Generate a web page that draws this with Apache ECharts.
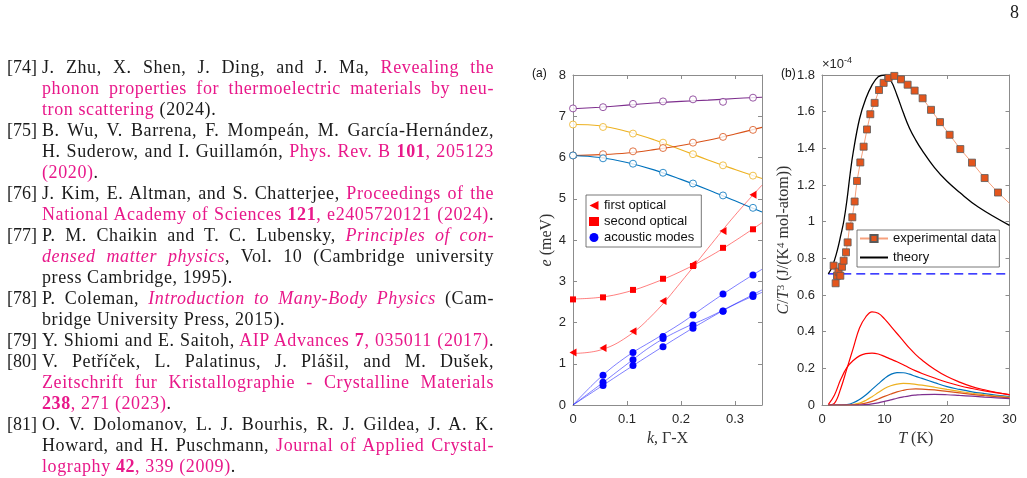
<!DOCTYPE html>
<html><head><meta charset="utf-8">
<script src="https://cdn.jsdelivr.net/npm/echarts@6/dist/echarts.min.js"></script>
<style>
html,body{margin:0;padding:0;background:#fff;}
#wrap{position:relative;width:1027px;height:478px;overflow:hidden;}
#chart{position:absolute;left:0;top:0;width:1027px;height:478px;}
.ln{position:absolute;left:42px;width:452px;height:21px;line-height:21px;font-family:'Liberation Serif',serif;font-size:18px;letter-spacing:0.6px;color:#1a1a1a;text-align:justify;text-align-last:justify;white-space:nowrap;}
.ls{text-align-last:left;}
.num{position:absolute;left:7px;height:21px;line-height:21px;font-family:'Liberation Serif',serif;font-size:18px;color:#1a1a1a;}
.p{color:#e8188a;}
.pg{position:absolute;left:1010px;top:2px;font-family:'Liberation Serif',serif;font-size:18px;color:#1a1a1a;}
</style></head>
<body><div id="wrap">
<div id="chart"></div>
<div id="refs"></div>
<div class="pg">8</div>
</div>
<script>
// ---------- Panel (a) data: phonon dispersion ----------
const kPts = [0, 0.0556, 0.1111, 0.1667, 0.2222, 0.2778, 0.3333];
const purplePts = [7.19, 7.22, 7.30, 7.36, 7.41, 7.35, 7.45];
const yellowPts = [6.80, 6.74, 6.58, 6.36, 6.08, 5.81, 5.56];
const orangePts = [6.05, 6.08, 6.15, 6.23, 6.36, 6.50, 6.67];
const bluePts   = [6.05, 5.98, 5.85, 5.63, 5.37, 5.08, 4.78];
const firstOptPts  = [1.27, 1.38, 1.79, 2.52, 3.41, 4.22, 5.10];
const secondOptPts = [2.56, 2.61, 2.79, 3.06, 3.37, 3.81, 4.26];
const kAc = [0.0556, 0.1111, 0.1667, 0.2222, 0.2778, 0.3333];
const acTopPts = [0.72, 1.27, 1.66, 2.18, 2.69, 3.15];
const acMidPts = [0.55, 1.10, 1.61, 1.94, 2.28, 2.67];
const acBotPts = [0.47, 0.96, 1.41, 1.86, 2.27, 2.63];
// fitted curves
const kFit = [0, 0.05, 0.10, 0.15, 0.20, 0.25, 0.30, 0.35];
const purpleFit = [7.18, 7.22, 7.27, 7.32, 7.36, 7.39, 7.43, 7.46];
const yellowFit = [6.80, 6.77, 6.63, 6.43, 6.19, 5.94, 5.71, 5.49];
const orangeFit = [6.05, 6.07, 6.11, 6.19, 6.29, 6.42, 6.57, 6.73];
const blueFit   = [6.05, 6.00, 5.88, 5.70, 5.47, 5.22, 4.95, 4.68];
const firstOptFit  = [1.25, 1.33, 1.65, 2.22, 2.98, 3.80, 4.60, 5.33];
const secondOptFit = [2.57, 2.61, 2.74, 2.96, 3.24, 3.58, 3.98, 4.42];
const acTopFit = [0, 0.66, 1.18, 1.58, 1.98, 2.44, 2.88, 3.29];
const acMidFit = [0, 0.49, 0.99, 1.47, 1.83, 2.12, 2.45, 2.79];
const acBotFit = [0, 0.43, 0.86, 1.28, 1.69, 2.08, 2.44, 2.73];

// ---------- Panel (b) data: C/T^3 (x1e-4) ----------
const expT = [1.86, 2.18, 2.40, 2.66, 2.93, 3.20, 3.46, 3.84, 4.10, 4.42, 4.85, 5.22, 5.60, 6.13, 6.66, 7.20, 7.73, 8.42, 9.12, 9.86, 10.66, 11.57, 12.64, 13.70, 14.82, 16.10, 17.44, 18.88, 20.42, 22.13, 24.00, 26.02, 28.16];
const expC = [0.760, 0.664, 0.705, 0.727, 0.705, 0.754, 0.787, 0.833, 0.887, 0.974, 1.024, 1.110, 1.222, 1.323, 1.409, 1.503, 1.586, 1.648, 1.718, 1.757, 1.784, 1.795, 1.776, 1.747, 1.715, 1.673, 1.610, 1.543, 1.474, 1.396, 1.322, 1.238, 1.159];
const expTailT = [28.16, 30];
const expTailC = [1.159, 1.100];
const theoryT = [1, 1.5, 2, 2.5, 3, 3.5, 4, 4.5, 5, 6, 7, 8, 9, 10, 11, 12, 13, 14, 15, 16, 18, 20, 22, 25, 30];
const theoryC = [0.715, 0.745, 0.790, 0.850, 0.925, 1.005, 1.120, 1.260, 1.380, 1.560, 1.670, 1.745, 1.790, 1.800, 1.770, 1.690, 1.595, 1.510, 1.445, 1.390, 1.295, 1.220, 1.160, 1.080, 0.980];
const dashT = [1, 30];
const dashC = [0.715, 0.715];
const Tc = [1, 2, 3, 4, 5, 6, 7, 8, 9, 10, 11, 12, 13, 14, 15, 16, 18, 20, 22, 24, 26, 28, 30];
const redTall  = [0, 0.010, 0.090, 0.200, 0.310, 0.420, 0.480, 0.508, 0.500, 0.470, 0.430, 0.390, 0.350, 0.310, 0.275, 0.245, 0.195, 0.155, 0.125, 0.100, 0.083, 0.068, 0.055];
const redBroad = [0.002, 0.055, 0.140, 0.205, 0.243, 0.268, 0.280, 0.283, 0.278, 0.265, 0.250, 0.236, 0.220, 0.202, 0.186, 0.172, 0.147, 0.124, 0.105, 0.090, 0.077, 0.066, 0.057];
const blueC    = [0, 0, 0, 0.002, 0.012, 0.030, 0.055, 0.085, 0.115, 0.145, 0.167, 0.177, 0.176, 0.168, 0.156, 0.145, 0.122, 0.100, 0.085, 0.072, 0.062, 0.053, 0.046];
const yellowC  = [0, 0, 0, 0, 0.003, 0.010, 0.025, 0.045, 0.068, 0.090, 0.105, 0.114, 0.118, 0.117, 0.113, 0.108, 0.097, 0.085, 0.074, 0.064, 0.056, 0.048, 0.042];
const orangeC  = [0, 0, 0, 0, 0, 0.004, 0.010, 0.020, 0.033, 0.047, 0.060, 0.072, 0.080, 0.086, 0.088, 0.087, 0.082, 0.074, 0.066, 0.058, 0.051, 0.045, 0.039];
const purpleC  = [0, 0, 0, 0, 0, 0, 0.002, 0.006, 0.012, 0.020, 0.028, 0.037, 0.044, 0.050, 0.054, 0.057, 0.058, 0.056, 0.052, 0.048, 0.043, 0.039, 0.035];

// tick label lists
const aXTicks = [0, 0.1, 0.2, 0.3];
const aYTicks = [0, 1, 2, 3, 4, 5, 6, 7, 8];
const bXTicks = [0, 10, 20, 30];
const bYTicks = [0, 0.2, 0.4, 0.6, 0.8, 1, 1.2, 1.4, 1.6, 1.8];

// ---------- reference list text ----------
const refs = [
 ['[74]', 'J. Zhu, X. Shen, J. Ding, and J. Ma, <span class="p">Revealing the</span>', 0],
 ['', '<span class="p">phonon properties for thermoelectric materials by neu-</span>', 0],
 ['', '<span class="p">tron scattering</span> (2024).', 1],
 ['[75]', 'B. Wu, V. Barrena, F. Mompeán, M. García-Hernández,', 0],
 ['', 'H. Suderow, and I. Guillamón, <span class="p">Phys. Rev. B <b>101</b>, 205123</span>', 0],
 ['', '<span class="p">(2020)</span>.', 1],
 ['[76]', 'J. Kim, E. Altman, and S. Chatterjee, <span class="p">Proceedings of the</span>', 0],
 ['', '<span class="p">National Academy of Sciences <b>121</b>, e2405720121 (2024)</span>.', 0],
 ['[77]', 'P. M. Chaikin and T. C. Lubensky, <span class="p"><i>Principles of con-</i></span>', 0],
 ['', '<span class="p"><i>densed matter physics</i></span>, Vol. 10 (Cambridge university', 0],
 ['', 'press Cambridge, 1995).', 1],
 ['[78]', 'P. Coleman, <span class="p"><i>Introduction to Many-Body Physics</i></span> (Cam-', 0],
 ['', 'bridge University Press, 2015).', 1],
 ['[79]', 'Y. Shiomi and E. Saitoh, <span class="p">AIP Advances <b>7</b>, 035011 (2017)</span>.', 0],
 ['[80]', 'V. Petříček, L. Palatinus, J. Plášil, and M. Dušek,', 0],
 ['', '<span class="p">Zeitschrift fur Kristallographie - Crystalline Materials</span>', 0],
 ['', '<span class="p"><b>238</b>, 271 (2023)</span>.', 1],
 ['[81]', 'O. V. Dolomanov, L. J. Bourhis, R. J. Gildea, J. A. K.', 0],
 ['', 'Howard, and H. Puschmann, <span class="p">Journal of Applied Crystal-</span>', 0],
 ['', '<span class="p">lography <b>42</b>, 339 (2009)</span>.', 1]
];
(function(){
  const box = document.getElementById('refs');
  let html = '';
  refs.forEach((r, i) => {
    const top = 57 + 21 * i;
    if (r[0]) html += '<div class="num" style="top:' + top + 'px">' + r[0] + '</div>';
    html += '<div class="ln' + (r[2] ? ' ls' : '') + '" style="top:' + top + 'px">' + r[1] + '</div>';
  });
  box.innerHTML = html;
})();

// ---------- chart ----------
const pair = (xs, ys) => xs.map((x, i) => [x, ys[i]]);
const AX = '#8c8c8c';
const LBL = '#262626';
const SANS = "'Liberation Sans', Arial, sans-serif";
const SERIF = "'Liberation Serif', serif";
function ax(extra) {
  return Object.assign({
    type: 'value',
    axisLine: { show: true, onZero: false, lineStyle: { color: AX, width: 1 } },
    axisTick: { show: true, inside: true, length: 4, lineStyle: { color: AX } },
    splitLine: { show: false },
    axisLabel: { color: LBL, fontFamily: SANS, fontSize: 13 }
  }, extra);
}
const fmt1 = v => String(Number(v.toFixed(1)));
const nameRich = {
  i: { fontFamily: SERIF, fontStyle: 'italic', fontSize: 16, color: '#333' },
  n: { fontFamily: SERIF, fontSize: 16, color: '#333' },
  s: { fontFamily: SERIF, fontSize: 11, color: '#333', verticalAlign: 'top', lineHeight: 16 }
};
const nameStyle = { fontFamily: SERIF, fontSize: 16, color: '#333', rich: nameRich };

const lineS = (name, xi, yi, data, color, width, extra) => Object.assign({
  name, type: 'line', xAxisIndex: xi, yAxisIndex: yi, data, smooth: 0.4,
  symbol: 'none', silent: true, lineStyle: { color, width }, itemStyle: { color }, z: 2
}, extra || {});
const scat = (name, xi, yi, data, symbol, size, color, extra) => Object.assign({
  name, type: 'scatter', xAxisIndex: xi, yAxisIndex: yi, data, symbol, symbolSize: size,
  itemStyle: { color, opacity: 1 }, silent: true, z: 4
}, extra || {});

const TRI = 'path://M0 5L10 0L10 10Z';

const option = {
  animation: false,
  grid: [
    { left: 573, top: 75, width: 189, height: 330 },
    { left: 822, top: 75, width: 187.5, height: 330 }
  ],
  xAxis: [
    ax({ gridIndex: 0, min: 0, max: 0.35, interval: 0.1, position: 'bottom',
         axisLabel: { color: LBL, fontFamily: SANS, fontSize: 13, margin: 8, showMaxLabel: false,
           formatter: v => aXTicks.includes(+v.toFixed(2)) ? fmt1(v) : '' },
         name: '{i|k}{n|, Γ-X}', nameLocation: 'middle', nameGap: 26, nameTextStyle: nameStyle }),
    ax({ gridIndex: 0, min: 0, max: 0.35, interval: 0.1, position: 'top', axisLabel: { show: false } }),
    ax({ gridIndex: 1, min: 0, max: 30, interval: 10, position: 'bottom',
         axisLabel: { color: LBL, fontFamily: SANS, fontSize: 13, margin: 8,
           formatter: v => bXTicks.includes(v) ? String(v) : '' },
         name: '{i|T}{n| (K)}', nameLocation: 'middle', nameGap: 26, nameTextStyle: nameStyle }),
    ax({ gridIndex: 1, min: 0, max: 30, interval: 10, position: 'top', axisLabel: { show: false } })
  ],
  yAxis: [
    ax({ gridIndex: 0, min: 0, max: 8, interval: 1, position: 'left',
         axisLabel: { color: LBL, fontFamily: SANS, fontSize: 13, margin: 7,
           formatter: v => aYTicks.includes(v) ? String(v) : '' },
         name: '{i|e}{n| (meV)}', nameLocation: 'middle', nameGap: 14, nameRotate: 90, nameTextStyle: nameStyle }),
    ax({ gridIndex: 0, min: 0, max: 8, interval: 1, position: 'right', axisLabel: { show: false } }),
    ax({ gridIndex: 1, min: 0, max: 1.8, interval: 0.2, position: 'left',
         axisLabel: { color: LBL, fontFamily: SANS, fontSize: 13, margin: 7,
           formatter: v => bYTicks.includes(+v.toFixed(1)) ? fmt1(v) : '' },
         name: '{i|C}{n|/}{i|T}{s|3}{n| (J/(K}{s|4}{n| mol-atom))}', nameLocation: 'middle', nameGap: 30, nameRotate: 90, nameTextStyle: nameStyle }),
    ax({ gridIndex: 1, min: 0, max: 1.8, interval: 0.2, position: 'right', axisLabel: { show: false } })
  ],
  legend: [
    {
      data: ['first optical', 'second optical', 'acoustic modes'],
      orient: 'vertical', left: 586, top: 195, itemWidth: 10, itemHeight: 9, itemGap: 3,
      padding: [4, 7, 3, 3], borderColor: '#555', borderWidth: 0.8, backgroundColor: '#fff',
      textStyle: { fontFamily: SANS, fontSize: 13, color: '#111' }, selectedMode: false
    },
    {
      data: [{ name: 'experimental data' }, { name: 'theory', itemStyle: { opacity: 0 } }],
      orient: 'vertical', left: 857, top: 230, itemWidth: 28, itemHeight: 9, itemGap: 6,
      padding: [2, 3, 3, 2], borderColor: '#555', borderWidth: 0.8, backgroundColor: '#fff',
      textStyle: { fontFamily: SANS, fontSize: 13, color: '#111' }, selectedMode: false
    }
  ],
  graphic: [
    { type: 'text', left: 532, top: 68, style: { text: '(a)', font: "12px 'Liberation Sans'", fill: '#111' } },
    { type: 'text', left: 781, top: 68, style: { text: '(b)', font: "12px 'Liberation Sans'", fill: '#111' } },
    { type: 'text', left: 822, top: 56, style: {
        text: '{a|×10}{s|-4}', rich: {
          a: { fontFamily: SANS, fontSize: 13, fill: '#262626', lineHeight: 16 },
          s: { fontFamily: SANS, fontSize: 9, fill: '#262626', verticalAlign: 'top', lineHeight: 16 } } } }
  ],
  series: [
    // panel (a) fitted curves
    lineS('pF', 0, 0, pair(kFit, purpleFit), '#7E2F8E', 1.1),
    lineS('yF', 0, 0, pair(kFit, yellowFit), '#EDB120', 1.1),
    lineS('oF', 0, 0, pair(kFit, orangeFit), '#D95319', 1.1),
    lineS('bF', 0, 0, pair(kFit, blueFit), '#0072BD', 1.1),
    lineS('r1F', 0, 0, pair(kFit, firstOptFit), 'rgba(255,0,0,0.5)', 1),
    lineS('r2F', 0, 0, pair(kFit, secondOptFit), 'rgba(255,0,0,0.5)', 1),
    lineS('aTF', 0, 0, pair(kFit, acTopFit), 'rgba(0,0,255,0.5)', 1),
    lineS('aMF', 0, 0, pair(kFit, acMidFit), 'rgba(0,0,255,0.5)', 1),
    lineS('aBF', 0, 0, pair(kFit, acBotFit), 'rgba(0,0,255,0.5)', 1),
    // panel (a) open markers
    scat('pP', 0, 0, pair(kPts, purplePts), 'circle', 7, '#fff', { itemStyle: { color: '#fff', borderColor: '#7E2F8E', borderWidth: 1 } }),
    scat('yP', 0, 0, pair(kPts, yellowPts), 'circle', 7, '#fff', { itemStyle: { color: '#fff', borderColor: '#EDB120', borderWidth: 1 } }),
    scat('oP', 0, 0, pair(kPts, orangePts), 'circle', 7, '#fff', { itemStyle: { color: '#fff', borderColor: '#D95319', borderWidth: 1 } }),
    scat('bP', 0, 0, pair(kPts, bluePts), 'circle', 7, '#fff', { itemStyle: { color: '#fff', borderColor: '#0072BD', borderWidth: 1 } }),
    // panel (a) filled markers
    scat('first optical', 0, 0, pair(kPts, firstOptPts), TRI, [7, 8], '#ff0000'),
    scat('second optical', 0, 0, pair(kPts, secondOptPts), 'rect', 6, '#ff0000'),
    scat('acoustic modes', 0, 0, pair(kAc, acTopPts).concat(pair(kAc, acMidPts), pair(kAc, acBotPts)), 'circle', 7, '#0000ff'),
    // panel (b)
    lineS('redTall', 2, 2, pair(Tc, redTall), '#ff0000', 1.2),
    lineS('redBroad', 2, 2, pair(Tc, redBroad), '#ff0000', 1.2),
    lineS('blueC', 2, 2, pair(Tc, blueC), '#0072BD', 1.2),
    lineS('yellowC', 2, 2, pair(Tc, yellowC), '#EDB120', 1.2),
    lineS('orangeC', 2, 2, pair(Tc, orangeC), '#D95319', 1.2),
    lineS('purpleC', 2, 2, pair(Tc, purpleC), '#7E2F8E', 1.2),
    lineS('dash', 2, 2, pair(dashT, dashC), '#0000ff', 1.2, { smooth: false, lineStyle: { color: '#0000ff', width: 1.2, type: [9, 5] } }),
    lineS('theory', 2, 2, pair(theoryT, theoryC), '#000', 1.3, { z: 3, itemStyle: { color: 'rgba(0,0,0,0)' } }),
    lineS('tail', 2, 2, pair(expTailT, expTailC), '#f6a07c', 1, { smooth: false }),
    {
      name: 'experimental data', type: 'line', xAxisIndex: 2, yAxisIndex: 2,
      data: pair(expT, expC), symbol: 'rect', symbolSize: 7, showSymbol: true, silent: true,
      lineStyle: { color: '#f6a07c', width: 1 },
      itemStyle: { color: '#e4551c', borderColor: '#5a5a5a', borderWidth: 0.8 }, z: 4
    }
  ]
};
const chart = echarts.init(document.getElementById('chart'), null, { renderer: 'canvas' });
chart.setOption(option);
</script>
</body></html>
